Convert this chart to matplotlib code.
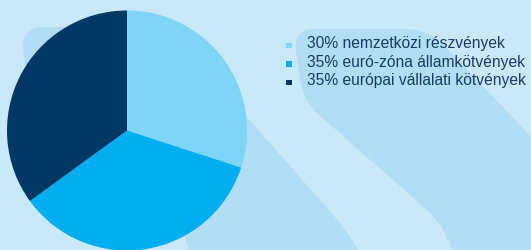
import matplotlib
matplotlib.use("Agg")
import matplotlib.pyplot as plt
import numpy as np
from matplotlib.path import Path
from matplotlib.patches import PathPatch, Rectangle

# ---- data ----
shares = [30, 35, 35]
labels = ["30% nemzetközi részvények",
          "35% euró-zóna államkötvények",
          "35% európai vállalati kötvények"]
colors = ["#7fd5f6", "#00aeef", "#003865"]

W, H = 531, 251
BG = "#c9e8f8"
BAND = "#b1def4"
TXT = "#1a3c64"

fig = plt.figure(figsize=(W / 100, H / 100), dpi=100)
fig.patch.set_facecolor(BG)

# background axes in pixel coordinates (y downwards)
bg = fig.add_axes([0, 0, 1, 1])
bg.set_xlim(0, W)
bg.set_ylim(H, 0)
bg.axis("off")
bg.set_zorder(0)


def rounded(points, r):
    pts = [np.array(p, float) for p in points]
    n = len(pts)
    verts, codes = [], []
    for i in range(n):
        v = pts[i]
        p = pts[i - 1]
        q = pts[(i + 1) % n]
        dp = p - v
        dq = q - v
        a = v + dp * min(r / np.linalg.norm(dp), 0.5)
        b = v + dq * min(r / np.linalg.norm(dq), 0.5)
        verts.append(a)
        codes.append(Path.MOVETO if i == 0 else Path.LINETO)
        verts += [v, b]
        codes += [Path.CURVE3, Path.CURVE3]
    verts.append(verts[0])
    codes.append(Path.CLOSEPOLY)
    return Path(verts, codes)


band1 = [(22, 28), (168, 28), (348, 233), (364, 262), (190, 262),
         (186, 234), (24, 72)]
band2 = [(293, 30), (428, 30), (650, 262), (456, 262), (441, 223),
         (303, 102)]
for b in (band1, band2):
    bg.add_patch(PathPatch(rounded(b, 22), facecolor=BAND, edgecolor="none"))

# legend
for i, (lab, col) in enumerate(zip(labels, colors)):
    yb = 48.0 + i * 18.7
    bg.add_patch(Rectangle((286, yb - 4.5), 5.5, 5.5, facecolor=col,
                           edgecolor="none"))
    bg.text(307, yb, lab, fontsize=11.25, family="Liberation Sans", color=TXT,
            va="baseline", ha="left", clip_on=False)

# pie axes
cx, cy, r = 127, 131.5, 120
ax = fig.add_axes([(cx - r) / W, (H - cy - r) / H, 2 * r / W, 2 * r / H])
ax.set_zorder(1)
ax.patch.set_alpha(0)
ax.pie(shares, colors=colors, startangle=90, counterclock=False, radius=1,
       wedgeprops=dict(linewidth=0))
ax.set_xlim(-1, 1)
ax.set_ylim(-1, 1)
ax.axis("off")

fig.savefig("out.png", dpi=100, facecolor=BG)
